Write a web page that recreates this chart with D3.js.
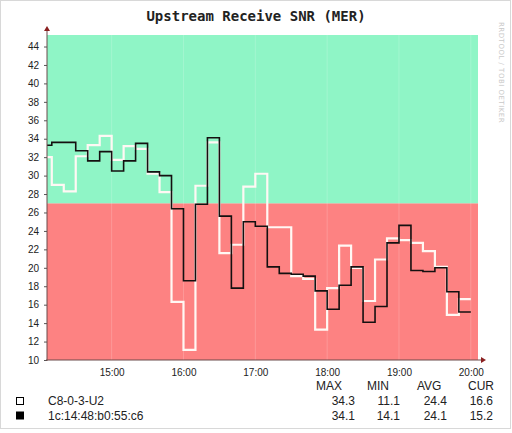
<!DOCTYPE html>
<html>
<head>
<meta charset="utf-8">
<script src="https://cdn.jsdelivr.net/npm/d3@7"></script>
<style>
  body { margin: 0; background: #fff; }
  svg { display: block; }
  .tick-lbl { font-family: "Liberation Sans", Arial, sans-serif; font-size: 10px; fill: #222; }
  .legend { font-family: "Liberation Sans", Arial, sans-serif; font-size: 12px; fill: #222; }
</style>
</head>
<body>
<svg id="chart" width="512" height="433"></svg>
<script>
// sample start times (10 minute steps) and end of the last step
const times = ["14:00","14:10","14:20","14:30","14:40","14:50",
  "15:00","15:10","15:20","15:30","15:40","15:50",
  "16:00","16:10","16:20","16:30","16:40","16:50",
  "17:00","17:10","17:20","17:30","17:40","17:50",
  "18:00","18:10","18:20","18:30","18:40","18:50",
  "19:00","19:10","19:20","19:30","19:40","19:50"];
const lastEnd = "20:00";

// C8-0-3-U2 (white line)
const snrPort = [32.0, 29.0, 28.3, 32.1, 33.3, 34.3,
  31.7, 33.2, 32.9, 30.2, 28.2, 16.3,
  11.1, 28.9, 33.6, 21.6, 22.5, 28.8,
  30.2, 24.4, 24.4, 19.1, 18.8, 13.3,
  17.8, 22.4, 20.0, 16.4, 20.9, 23.2,
  23.0, 22.7, 21.8, 20.1, 14.9, 16.6];

// 1c:14:48:b0:55:c6 (black line)
const snrModem = [33.3, 33.6, 33.6, 32.7, 31.6, 32.6,
  30.5, 31.6, 33.5, 30.4, 30.0, 26.4,
  18.6, 26.9, 34.1, 25.6, 17.8, 25.0,
  24.5, 20.1, 19.4, 19.3, 19.1, 17.5,
  15.5, 18.1, 20.1, 14.1, 15.8, 22.7,
  24.6, 19.7, 19.6, 20.0, 17.4, 15.2];

const seriesNames = ["C8-0-3-U2", "1c:14:48:b0:55:c6"];
const seriesColors = ["#fff8f4", "#141010"];
const statHeads = ["MAX", "MIN", "AVG", "CUR"];
const statValues = [["34.3", "11.1", "24.4", "16.6"], ["34.1", "14.1", "24.1", "15.2"]];

const zoneLimits = [10, 27, 45.25];
const zoneColors = ["#fd8282", "#8ff5c6"];
const yTicks = [10, 12, 14, 16, 18, 20, 22, 24, 26, 28, 30, 32, 34, 36, 38, 40, 42, 44];
const xTickLabels = ["15:00", "16:00", "17:00", "18:00", "19:00", "20:00"];
const xStart = "14:06", xEnd = "20:06";

const parse = s => { const [h, m] = s.split(":").map(Number); return new Date(2020, 0, 1, h, m); };

const svg = d3.select("#chart");
const plotL = 47, plotR = 478, plotT = 35, plotB = 360;

// frame
svg.append("rect").attr("x", 0.5).attr("y", 0.5).attr("width", 510).attr("height", 428)
  .attr("fill", "#fff").attr("stroke", "#d8d8d8");

const x = d3.scaleTime().domain([parse(xStart), parse(xEnd)]).range([plotL, plotR]);
const y = d3.scaleLinear().domain([zoneLimits[0], zoneLimits[2]]).range([plotB, plotT]);

// colour zones
zoneColors.forEach((c, i) => {
  svg.append("rect")
    .attr("x", plotL).attr("width", plotR - plotL)
    .attr("y", y(zoneLimits[i + 1])).attr("height", y(zoneLimits[i]) - y(zoneLimits[i + 1]))
    .attr("fill", c);
});

// faint hour grid
svg.append("g").selectAll("line").data(xTickLabels.map(parse)).join("line")
  .attr("x1", d => x(d)).attr("x2", d => x(d))
  .attr("y1", plotT).attr("y2", plotB)
  .attr("stroke", "#fff").attr("stroke-opacity", 0.18);

// lines
svg.append("clipPath").attr("id", "plotclip").append("rect")
  .attr("x", plotL).attr("y", plotT).attr("width", plotR - plotL).attr("height", plotB - plotT);

const line = d3.line().x(d => x(d.t)).y(d => y(d.v)).curve(d3.curveStepAfter);
[snrPort, snrModem].forEach((vals, i) => {
  const pts = vals.map((v, j) => ({ t: parse(times[j]), v }));
  pts.push({ t: parse(lastEnd), v: vals[vals.length - 1] });
  svg.append("path").datum(pts)
    .attr("clip-path", "url(#plotclip)")
    .attr("fill", "none")
    .attr("stroke", seriesColors[i])
    .attr("stroke-width", i === 0 ? 2.2 : 1.6)
    .attr("d", line);
});

// y axis
const yAxis = svg.append("g").attr("transform", `translate(${plotL},0)`)
  .call(d3.axisLeft(y).tickValues(yTicks).tickSize(3).tickPadding(5).tickFormat(d3.format("d")));
yAxis.select(".domain").remove();
yAxis.selectAll(".tick line").attr("stroke", "#555");
yAxis.selectAll(".tick text").attr("class", "tick-lbl").attr("font-family", null).attr("font-size", null);

// x axis
const xAxis = svg.append("g").attr("transform", `translate(0,${plotB})`)
  .call(d3.axisBottom(x).tickValues(xTickLabels.map(parse)).tickSize(0).tickPadding(9)
    .tickFormat(d3.timeFormat("%H:%M")));
xAxis.select(".domain").remove();
xAxis.selectAll(".tick text").attr("class", "tick-lbl").attr("font-family", null).attr("font-size", null);

// axis lines with arrows
svg.append("line").attr("x1", plotL).attr("x2", plotL).attr("y1", plotB + 1).attr("y2", 28)
  .attr("stroke", "#6a4a4a").attr("stroke-width", 1);
svg.append("line").attr("x1", plotL - 1).attr("x2", 484).attr("y1", plotB).attr("y2", plotB)
  .attr("stroke", "#6a4a4a").attr("stroke-width", 1);
svg.append("path").attr("d", `M${plotL - 3},31 L${plotL},26 L${plotL + 3},31 Z`).attr("fill", "#8a2020");
svg.append("path").attr("d", `M481,${plotB - 3} L486,${plotB} L481,${plotB + 3} Z`).attr("fill", "#8a2020");

// title
svg.append("text").attr("x", 256).attr("y", 21).attr("text-anchor", "middle")
  .attr("font-family", "DejaVu Sans Mono, monospace").attr("font-weight", "bold")
  .attr("font-size", 14).attr("fill", "#222").text("Upstream Receive SNR (MER)");

// rrdtool watermark
svg.append("text").attr("transform", "translate(499,22) rotate(90)")
  .attr("font-family", "DejaVu Sans, sans-serif").attr("font-size", 7).attr("fill", "#c8c8c8")
  .attr("letter-spacing", 0.5).text("RRDTOOL / TOBI OETIKER");

// legend
const headX = [316, 367, 417, 468];
const valRight = [355, 400, 447, 493];
svg.append("g").selectAll("text").data(statHeads).join("text")
  .attr("class", "legend").attr("x", (d, i) => headX[i]).attr("y", 390).text(d => d);

seriesNames.forEach((name, i) => {
  const by = 405 + i * 14.5;
  svg.append("rect").attr("x", 16.5).attr("y", by - 7.5).attr("width", 7).attr("height", 7)
    .attr("fill", i === 0 ? "#fff" : "#000").attr("stroke", "#000").attr("stroke-width", 1);
  svg.append("text").attr("class", "legend").attr("x", 48).attr("y", by).text(name);
  statValues[i].forEach((v, k) => {
    svg.append("text").attr("class", "legend").attr("x", valRight[k]).attr("y", by)
      .attr("text-anchor", "end").text(v);
  });
});
</script>
</body>
</html>
